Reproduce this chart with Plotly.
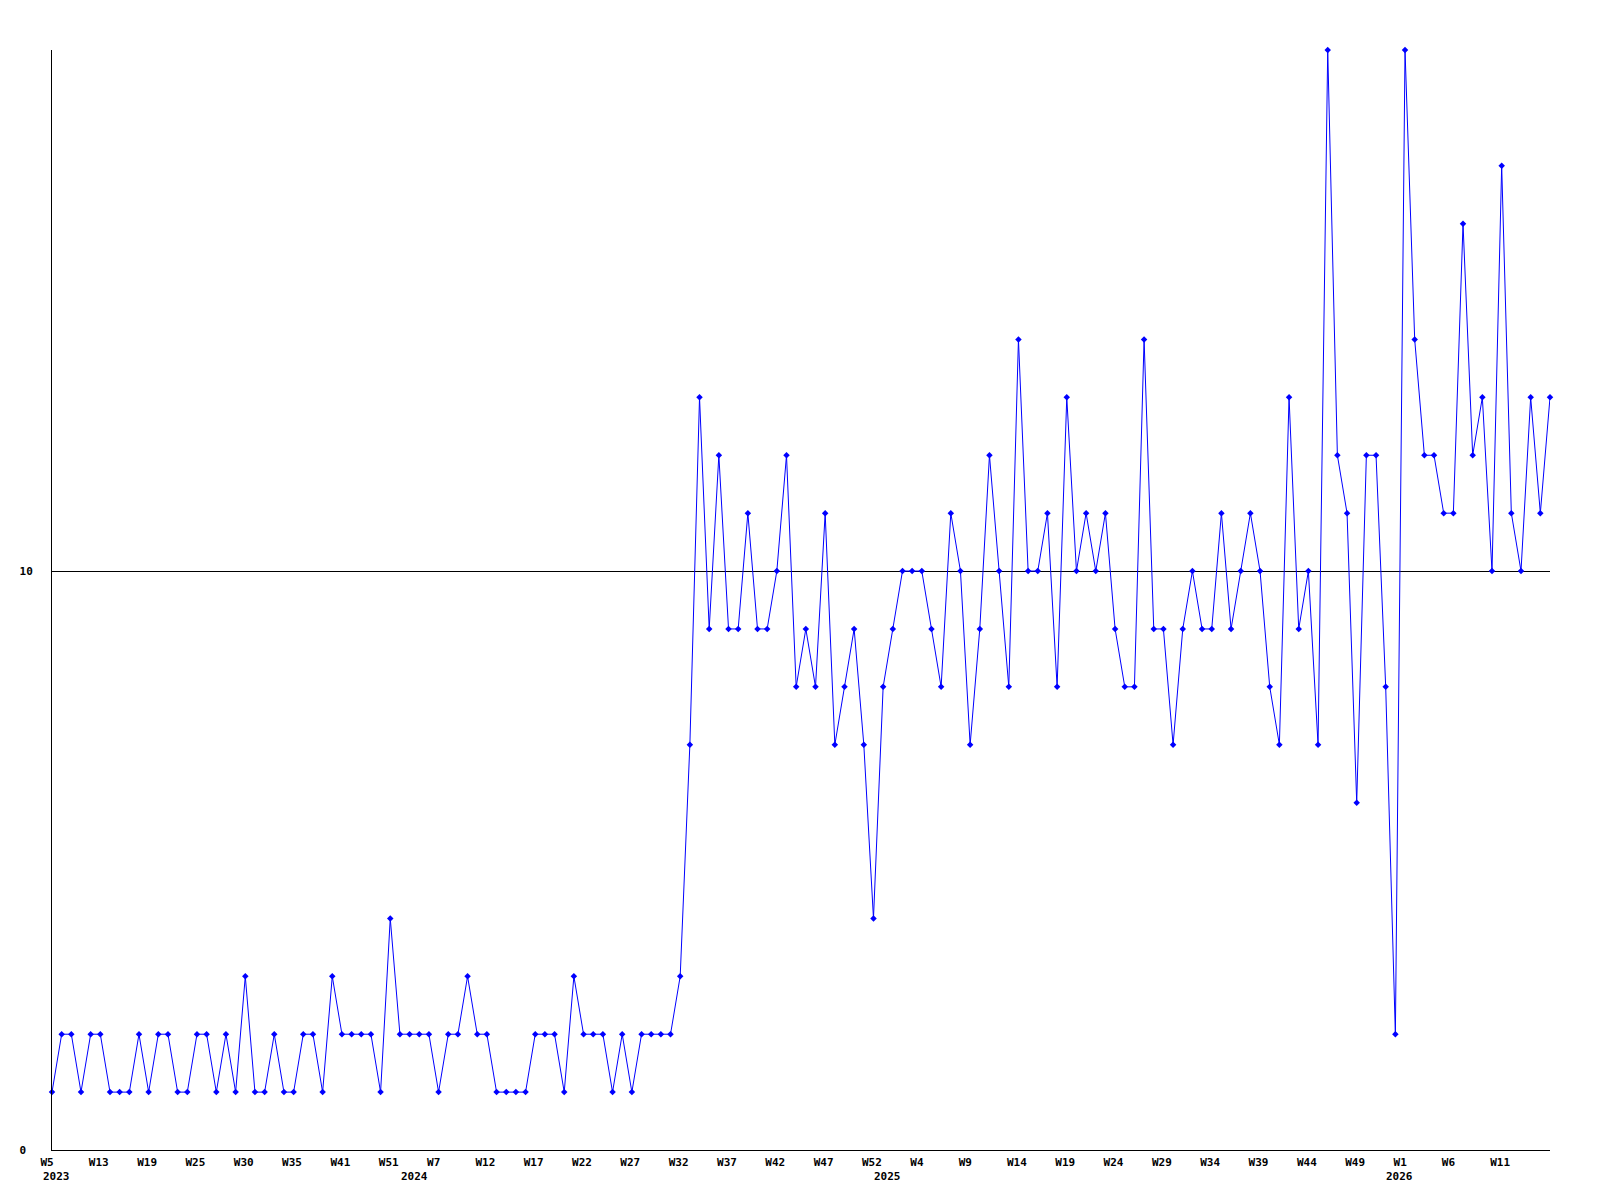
import plotly.graph_objects as go

# Weekly values, 156 points (2023 W5 ... 2026)
values = [
    1, 2, 2, 1, 2, 2, 1, 1, 1, 2,
    1, 2, 2, 1, 1, 2, 2, 1, 2, 1,
    3, 1, 1, 2, 1, 1, 2, 2, 1, 3,
    2, 2, 2, 2, 1, 4, 2, 2, 2, 2,
    1, 2, 2, 3, 2, 2, 1, 1, 1, 1,
    2, 2, 2, 1, 3, 2, 2, 2, 1, 2,
    1, 2, 2, 2, 2, 3, 7, 13, 9, 12,
    9, 9, 11, 9, 9, 10, 12, 8, 9, 8,
    11, 7, 8, 9, 7, 4, 8, 9, 10, 10,
    10, 9, 8, 11, 10, 7, 9, 12, 10, 8,
    14, 10, 10, 11, 8, 13, 10, 11, 10, 11,
    9, 8, 8, 14, 9, 9, 7, 9, 10, 9,
    9, 11, 9, 10, 11, 10, 8, 7, 13, 9,
    10, 7, 19, 12, 11, 6, 12, 12, 8, 2,
    19, 14, 12, 12, 11, 11, 16, 12, 13, 10,
    17, 11, 10, 13, 11, 13,
]
x_index = list(range(len(values)))

tick_positions = list(range(0, 151, 5))
tick_labels = ["W5", "W13", "W19", "W25", "W30", "W35", "W41", "W51", "W7", "W12",
               "W17", "W22", "W27", "W32", "W37", "W42", "W47", "W52", "W4", "W9",
               "W14", "W19", "W24", "W29", "W34", "W39", "W44", "W49", "W1", "W6", "W11"]

year_positions = [0, 37, 86, 139]
year_labels = ["2023", "2024", "2025", "2026"]

y_ticks = [0, 10]
y_tick_labels = ["0\u00a0", "10"]

FONT = "DejaVu Sans Mono"

fig = go.Figure()
fig.add_trace(go.Scatter(
    x=x_index, y=values, mode="lines+markers",
    line=dict(color="#0000ff", width=1),
    marker=dict(symbol="diamond", size=5, color="#0000ff"),
    cliponaxis=False, showlegend=False,
))

for pos, lab in zip(year_positions, year_labels):
    fig.add_annotation(x=pos, xref="x", y=-0.0242, yref="paper",
                       text="<b>%s</b>" % lab, showarrow=False,
                       xanchor="left", yanchor="middle", xshift=-11,
                       font=dict(family=FONT, size=11, color="black"))

fig.update_layout(
    width=1600, height=1200,
    margin=dict(l=40, r=58, t=42, b=58),
    paper_bgcolor="white", plot_bgcolor="white",
    font=dict(family=FONT, size=11, color="black"),
    xaxis=dict(range=[0, 155], tickvals=tick_positions,
               ticktext=["<b>%s</b>" % t for t in tick_labels],
               showgrid=False, zeroline=False, showline=True,
               linecolor="black", linewidth=1, ticks="",
               ticklabelposition="outside right", ticklabelshift=-12,
               ticklabelstandoff=2),
    yaxis=dict(range=[0, 19], tickvals=y_ticks,
               ticktext=["<b>%s</b>" % t for t in y_tick_labels],
               showgrid=True, gridcolor="black", gridwidth=1,
               zeroline=False, showline=True, linecolor="black",
               linewidth=1, ticks="", ticklabelstandoff=16),
)

fig.write_html("out.html")
